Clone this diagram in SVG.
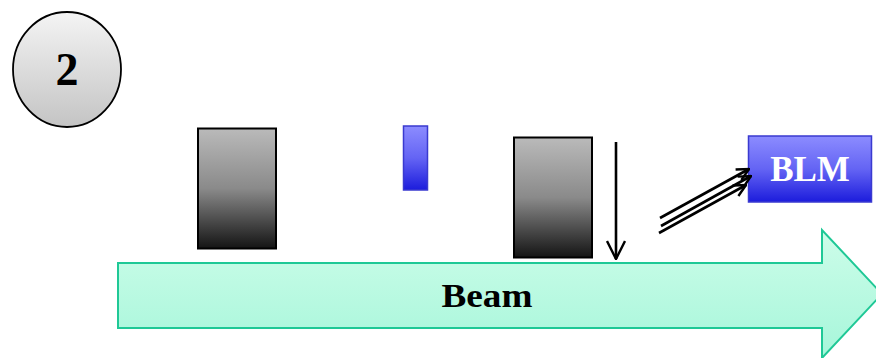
<svg xmlns="http://www.w3.org/2000/svg" width="876" height="358" viewBox="0 0 876 358">
<style>
.lbl{font-family:"Liberation Serif","Times New Roman",serif;font-weight:bold;text-anchor:middle}
.conn{stroke:#000;stroke-width:2.6;fill:none}
</style>
<defs>
<linearGradient id="gCircle" x1="0" y1="0" x2="0" y2="1"><stop offset="0" stop-color="#f4f4f4"/><stop offset="1" stop-color="#c4c4c4"/></linearGradient>
<linearGradient id="gGray" x1="0" y1="0" x2="0" y2="1"><stop offset="0" stop-color="#bababa"/><stop offset="0.5" stop-color="#8a8a8a"/><stop offset="1" stop-color="#141414"/></linearGradient>
<linearGradient id="gBlue" x1="0" y1="0" x2="0" y2="1"><stop offset="0" stop-color="#8c8cff"/><stop offset="0.5" stop-color="#6464f4"/><stop offset="1" stop-color="#1c1cdc"/></linearGradient>
<linearGradient id="gBeam" x1="0" y1="0" x2="0" y2="1"><stop offset="0" stop-color="#cdfde9"/><stop offset="1" stop-color="#a6f6da"/></linearGradient>
<marker id="open" viewBox="0 0 14 14" refX="13" refY="7" markerWidth="14" markerHeight="14" markerUnits="userSpaceOnUse" orient="auto">
<path d="M1,1 L13,7 L1,13" fill="none" stroke="#000" stroke-width="2.4"/>
</marker>
<marker id="openB" viewBox="0 0 20 20" refX="19" refY="10" markerWidth="20" markerHeight="20" markerUnits="userSpaceOnUse" orient="auto">
<path d="M1,1 L19,10 L1,19" fill="none" stroke="#000" stroke-width="2.4"/>
</marker>
</defs>

<g id="step">
<ellipse cx="67" cy="69.5" rx="54" ry="57.5" fill="url(#gCircle)" stroke="#000" stroke-width="1.8"/>
<text class="lbl" x="67" y="85" font-size="46">2</text>
</g>

<g id="beam">
<path d="M118,263 L822,263 L822,230 L882,294 L822,358 L822,328 L118,328 Z" fill="url(#gBeam)" stroke="#1fc896" stroke-width="2"/>
<text class="lbl" x="487" y="307" font-size="33" textLength="91" lengthAdjust="spacingAndGlyphs">Beam</text>
</g>

<g id="collimator1">
<rect x="198" y="128.5" width="78" height="120" fill="url(#gGray)" stroke="#000" stroke-width="2"/>
</g>

<g id="blue-element">
<rect x="403.5" y="126" width="24" height="64" fill="url(#gBlue)" stroke="#3a3ad0" stroke-width="1.5"/>
</g>

<g id="collimator2">
<rect x="514" y="137.5" width="78" height="120" fill="url(#gGray)" stroke="#000" stroke-width="2"/>
</g>

<g id="blm">
<rect x="748.5" y="136" width="123" height="66" fill="url(#gBlue)" stroke="#3a3ad0" stroke-width="1.5"/>
<text class="lbl" x="810" y="181" font-size="35" fill="#fff">BLM</text>
</g>

<g id="connectors">
<line class="conn" x1="616" y1="142" x2="616" y2="259" marker-end="url(#openB)"/>
<line class="conn" x1="660" y1="218" x2="749" y2="169" marker-end="url(#open)"/>
<line class="conn" x1="661" y1="226" x2="751" y2="176" marker-end="url(#open)"/>
<line class="conn" x1="659" y1="233" x2="746" y2="185" marker-end="url(#open)"/>
</g>
</svg>
